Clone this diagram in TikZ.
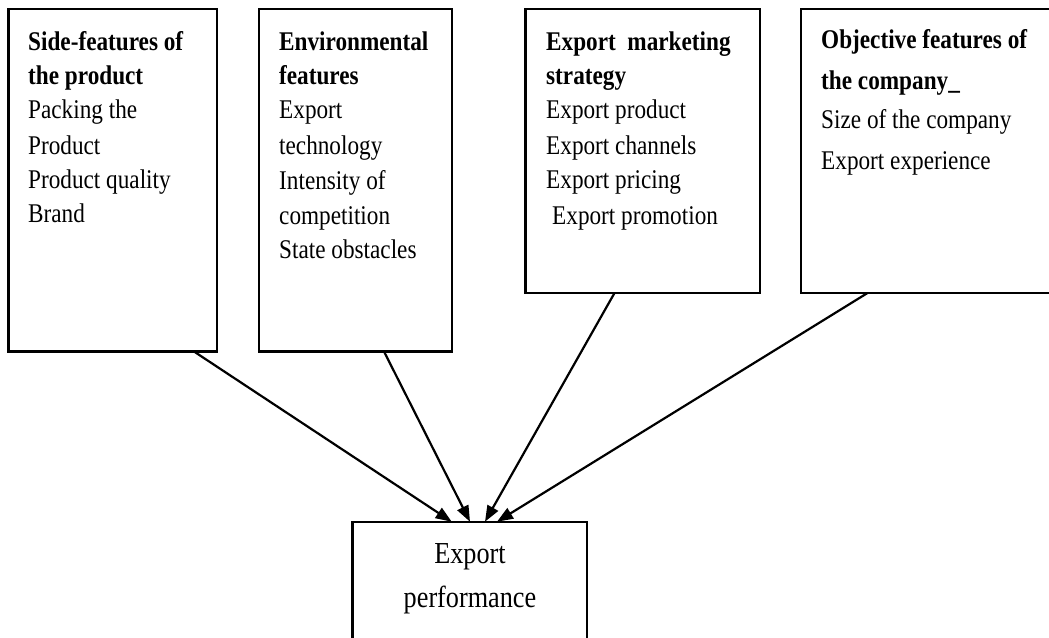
\documentclass[tikz,border=0pt]{standalone}
\usepackage{fontspec}
\setmainfont{Liberation Serif}[FakeStretch=0.86]
\usetikzlibrary{arrows.meta}
\begin{document}
\begin{tikzpicture}[x=1pt,y=-1pt,
  box/.style={draw,line width=2.4pt,rectangle,inner sep=0pt,outer sep=0pt,anchor=north west},
  body/.style={font=\fontsize{27}{32}\selectfont,anchor=base west,inner sep=0pt},
  head/.style={font=\fontsize{27}{32}\selectfont\bfseries,anchor=base west,inner sep=0pt},
  big/.style={font=\fontsize{30.5}{36}\selectfont,anchor=base,inner sep=0pt},
  arr/.style={line width=2.2pt,-{Triangle[length=16pt,width=12pt]}}]
\path[use as bounding box] (0,0) rectangle (1049,637);
\clip (0,0) rectangle (1049,637);
% boxes
\node[box,minimum width=208.5pt,minimum height=342.5pt] (b1) at (8.5,9) {};
\node[box,minimum width=193pt,minimum height=342.5pt] (b2) at (259,9) {};
\node[box,minimum width=234.5pt,minimum height=284pt] (b3) at (525.5,9) {};
\node[box,minimum width=270pt,minimum height=284pt] (b4) at (801,9) {};
\node[box,minimum width=234.2pt,minimum height=140pt] (perf) at (352.5,521.7) {};
% box 1 text
\node[head] (t1a) at (28,50) {Side-features of};
\node[head] (t1b) at (28,84) {the product};
\node[body] (t1c) at (28,118) {Packing the};
\node[body] (t1d) at (28,154) {Product};
\node[body] (t1e) at (28,188) {Product quality};
\node[body] (t1f) at (28,222) {Brand};
% box 2 text
\node[head] (t2a) at (279,50) {Environmental};
\node[head] (t2b) at (279,84) {features};
\node[body] (t2c) at (279,118) {Export};
\node[body] (t2d) at (279,154) {technology};
\node[body] (t2e) at (279,189) {Intensity of};
\node[body] (t2f) at (279,224) {competition};
\node[body] (t2g) at (279,258) {State obstacles};
% box 3 text
\node[head] (t3a) at (546,50) {Export\ \ marketing};
\node[head] (t3b) at (546,84) {strategy};
\node[body] (t3c) at (546,118) {Export product};
\node[body] (t3d) at (546,154) {Export channels};
\node[body] (t3e) at (546,188) {Export pricing};
\node[body] (t3f) at (552,224) {Export promotion};
% box 4 text
\node[head] (t4a) at (821,48) {Objective features of};
\node[head] (t4b) at (821,89) {the company\_};
\node[body] (t4c) at (821,128) {Size of the company};
\node[body] (t4d) at (821,169) {Export experience};
% bottom text
\node[big] (p1) at (470,563) {Export};
\node[big] (p2) at (470,607) {performance};
% arrows
\draw[arr] ([xshift=185.5pt]b1.south west) -- ([xshift=99.2pt]perf.north west);
\draw[arr] ([xshift=125pt]b2.south west) -- ([xshift=117.5pt]perf.north west);
\draw[arr] ([xshift=89pt]b3.south west) -- ([xshift=132.5pt]perf.north west);
\draw[arr] ([xshift=66.5pt]b4.south west) -- ([xshift=144.5pt]perf.north west);
\end{tikzpicture}
\end{document}
